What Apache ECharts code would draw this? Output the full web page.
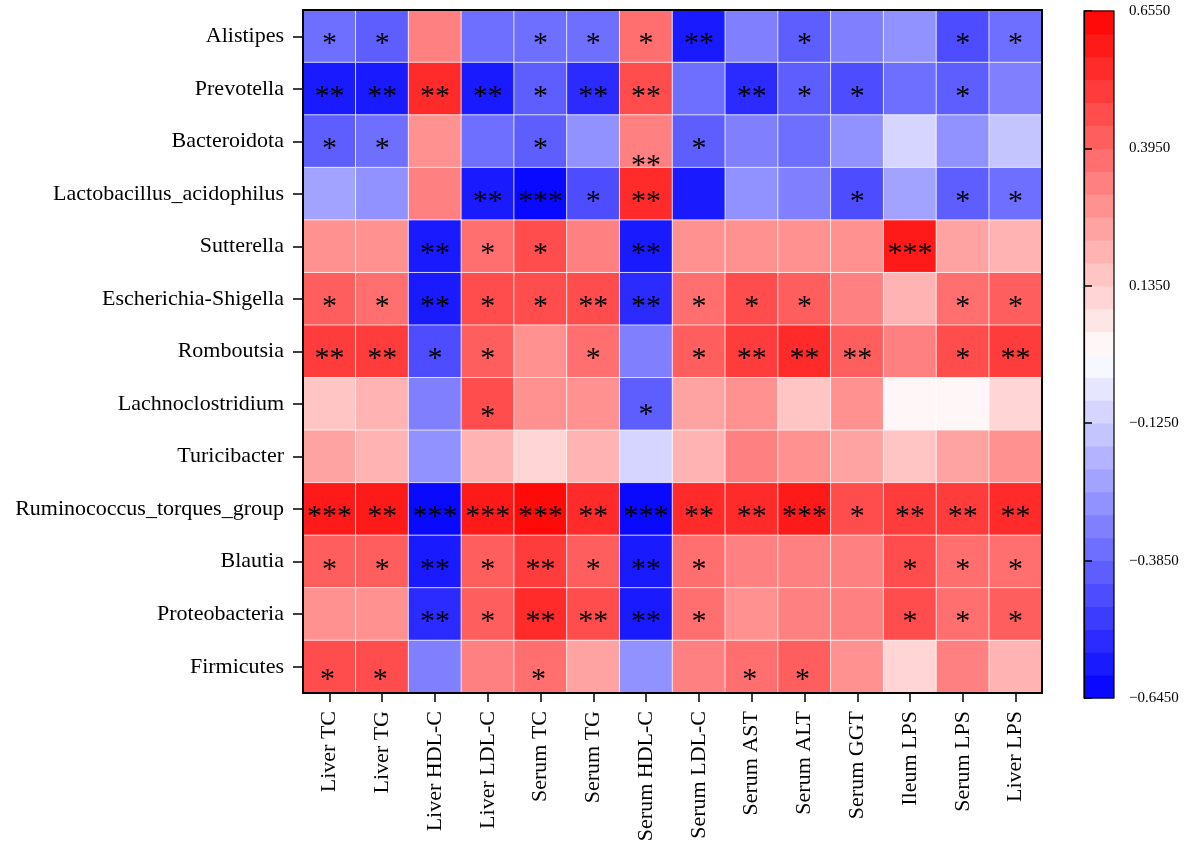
<!DOCTYPE html>
<html><head><meta charset="utf-8">
<script src="https://cdn.jsdelivr.net/npm/echarts@6/dist/echarts.min.js"></script>
<style>html,body{margin:0;padding:0;background:#fff}#c{width:1192px;height:855px}</style>
</head><body><div id="c"></div>
<script>
// ---- data ----
const columns = ['Liver TC','Liver TG','Liver HDL-C','Liver LDL-C','Serum TC','Serum TG','Serum HDL-C','Serum LDL-C','Serum AST','Serum ALT','Serum GGT','Ileum LPS','Serum LPS','Liver LPS'];
const rows = ['Alistipes','Prevotella','Bacteroidota','Lactobacillus_acidophilus','Sutterella','Escherichia-Shigella','Romboutsia','Lachnoclostridium','Turicibacter','Ruminococcus_torques_group','Blautia','Proteobacteria','Firmicutes'];
const corrValues = [
  [-0.37,-0.41, 0.33,-0.36,-0.37,-0.36, 0.37,-0.58,-0.31,-0.40,-0.32,-0.28,-0.45,-0.36],
  [-0.58,-0.59, 0.55,-0.57,-0.41,-0.53, 0.46,-0.36,-0.54,-0.41,-0.45,-0.37,-0.40,-0.32],
  [-0.40,-0.37, 0.29,-0.36,-0.41,-0.28, 0.33,-0.41,-0.32,-0.36,-0.27,-0.10,-0.28,-0.15],
  [-0.23,-0.28, 0.33,-0.58,-0.63,-0.45, 0.55,-0.58,-0.28,-0.32,-0.45,-0.24,-0.40,-0.36],
  [ 0.29, 0.28,-0.58, 0.37, 0.46, 0.33,-0.59, 0.28, 0.29, 0.29, 0.28, 0.59, 0.25, 0.20],
  [ 0.42, 0.37,-0.58, 0.46, 0.46, 0.45,-0.54, 0.37, 0.46, 0.42, 0.33, 0.20, 0.37, 0.41],
  [ 0.51, 0.50,-0.45, 0.42, 0.29, 0.37,-0.32, 0.42, 0.50, 0.55, 0.41, 0.33, 0.46, 0.51],
  [ 0.16, 0.20,-0.32, 0.46, 0.29, 0.28,-0.41, 0.24, 0.29, 0.16, 0.28, 0.02, 0.03, 0.11],
  [ 0.24, 0.20,-0.28, 0.20, 0.11, 0.21,-0.10, 0.20, 0.33, 0.29, 0.24, 0.16, 0.25, 0.29],
  [ 0.59, 0.60,-0.63, 0.59, 0.64, 0.55,-0.62, 0.54, 0.55, 0.59, 0.46, 0.50, 0.51, 0.55],
  [ 0.42, 0.41,-0.58, 0.42, 0.50, 0.42,-0.59, 0.37, 0.33, 0.33, 0.32, 0.46, 0.37, 0.37],
  [ 0.29, 0.28,-0.54, 0.42, 0.55, 0.46,-0.58, 0.37, 0.29, 0.33, 0.33, 0.45, 0.37, 0.42],
  [ 0.46, 0.45,-0.32, 0.33, 0.37, 0.24,-0.28, 0.33, 0.37, 0.42, 0.29, 0.11, 0.33, 0.20]
];
const stars = [
  ['*','*','','','*','*','*','**','','*','','','*','*'],
  ['**','**','**','**','*','**','**','','**','*','*','','*',''],
  ['*','*','','','*','','**','*','','','','','',''],
  ['','','','**','***','*','**','','','','*','','*','*'],
  ['','','**','*','*','','**','','','','','***','',''],
  ['*','*','**','*','*','**','**','*','*','*','','','*','*'],
  ['**','**','*','*','','*','','*','**','**','**','','*','**'],
  ['','','','*','','','*','','','','','','',''],
  ['','','','','','','','','','','','','',''],
  ['***','**','***','***','***','**','***','**','**','***','*','**','**','**'],
  ['*','*','**','*','**','*','**','*','','','','*','*','*'],
  ['','','**','*','**','**','**','*','','','','*','*','*'],
  ['*','*','','','*','','','','*','*','','','','']
];
const colorbarTicks = [-0.645, -0.385, -0.125, 0.135, 0.395, 0.655];
const colorSteps = 30;

// ---- style helpers ----
const FONT = "'Liberation Serif','Times New Roman',serif";
const cbMin = colorbarTicks[0], cbMax = colorbarTicks[colorbarTicks.length-1];
const cbStep = (cbMax - cbMin) / colorSteps;
const half = colorSteps / 2;
const pieces = [];
for (let i = 0; i < colorSteps; i++) {
  let color;
  if (i < half) { const c = Math.round(255 * (i + 0.5) / half); color = `rgb(${c},${c},255)`; }
  else { const n = colorSteps - 1 - i; const g = Math.round(255 * (n + 0.5) / half); color = `rgb(255,${g},${g})`; }
  pieces.push({ lo: cbMin + i * cbStep, hi: cbMin + (i + 1) * cbStep, color });
}
// label nudges (style only)
const labelNudge = { '2,6': [0, 25], '7,3': [0, 13], '7,6': [0, 11] };
const heatData = [];
rows.forEach((r, yi) => columns.forEach((c, xi) => {
  let off = [0, 8];
  if (yi === 12) off = [-2, 13];
  if (labelNudge[yi + ',' + xi]) off = labelNudge[yi + ',' + xi];
  heatData.push({ value: [xi, yi, corrValues[yi][xi]], label: { offset: off } });
}));

const chart = echarts.init(document.getElementById('c'), null, { renderer: 'canvas' });
chart.setOption({
  animation: false,
  backgroundColor: '#fff',
  grid: [
    { left: 303, top: 10, right: 150, bottom: 162, containLabel: false },
    { left: 1084, top: 11, width: 30, height: 687 }
  ],
  xAxis: [
    { type: 'category', data: columns, gridIndex: 0, position: 'bottom', z: 5,
      axisLine: { show: true, lineStyle: { color: '#000', width: 2 } },
      axisTick: { show: true, alignWithLabel: true, length: 9, lineStyle: { color: '#000', width: 1.5 } },
      axisLabel: { rotate: 90, margin: 18, fontFamily: FONT, fontSize: 22, color: '#000', interval: 0 },
      splitLine: { show: false } },
    { type: 'category', data: columns, gridIndex: 0, position: 'top', z: 5,
      axisLine: { show: true, lineStyle: { color: '#000', width: 2 } },
      axisTick: { show: false }, axisLabel: { show: false } },
    { type: 'value', gridIndex: 1, min: 0, max: 1, show: false }
  ],
  yAxis: [
    { type: 'category', data: rows, inverse: true, gridIndex: 0, position: 'left', z: 5,
      axisLine: { show: true, lineStyle: { color: '#000', width: 2 } },
      axisTick: { show: true, alignWithLabel: true, length: 10, lineStyle: { color: '#000', width: 1.5 } },
      axisLabel: { margin: 19, fontFamily: FONT, fontSize: 22, color: '#000', interval: 0 },
      splitLine: { show: false } },
    { type: 'category', data: rows, inverse: true, gridIndex: 0, position: 'right', z: 5,
      axisLine: { show: true, lineStyle: { color: '#000', width: 2 } },
      axisTick: { show: false }, axisLabel: { show: false } },
    { type: 'value', gridIndex: 1, position: 'right', min: 0, max: cbMax - cbMin, interval: colorbarTicks[1] - colorbarTicks[0], z: 5,
      axisLine: { show: true, lineStyle: { color: '#000', width: 1.2 } },
      axisTick: { show: true, length: 8, lineStyle: { color: '#000', width: 1.5 } },
      axisLabel: { margin: 15, fontFamily: FONT, fontSize: 15, color: '#000',
        formatter: v => (v + cbMin).toFixed(4).replace('-', '\u2212') },
      splitLine: { show: false } }
  ],
  visualMap: {
    type: 'piecewise', show: false, seriesIndex: 0, dimension: 2,
    pieces: pieces.map(p => ({ gte: p.lo, lt: p.hi, color: p.color })).concat([{ gte: cbMax, color: pieces[colorSteps-1].color }])
  },
  series: [
    { type: 'heatmap', xAxisIndex: 0, yAxisIndex: 0, data: heatData,
      itemStyle: { borderColor: 'rgba(255,255,255,0.75)', borderWidth: 1 },
      emphasis: { disabled: true },
      label: { show: true, formatter: p => stars[p.value[1]][p.value[0]], fontFamily: FONT, fontSize: 30, color: '#000' } },
    { type: 'custom', xAxisIndex: 2, yAxisIndex: 2, silent: true,
      data: pieces.map(p => [p.lo - cbMin, p.hi - cbMin]),
      renderItem: (params, api) => {
        const a = api.coord([0, api.value(0)]);
        const b = api.coord([1, api.value(1)]);
        return { type: 'rect', shape: { x: a[0], y: b[1] - 0.5, width: b[0] - a[0], height: a[1] - b[1] + 1 },
          style: { fill: pieces[params.dataIndex].color } };
      } },
    { type: 'custom', xAxisIndex: 2, yAxisIndex: 2, silent: true, z: 4,
      data: [[0]],
      renderItem: (params, api) => {
        const a = api.coord([0, 0]);
        const b = api.coord([1, cbMax - cbMin]);
        return { type: 'rect', shape: { x: a[0], y: b[1], width: b[0] - a[0], height: a[1] - b[1] },
          style: { fill: 'none', stroke: '#000', lineWidth: 1.2 } };
      } }
  ]
});
</script></body></html>
